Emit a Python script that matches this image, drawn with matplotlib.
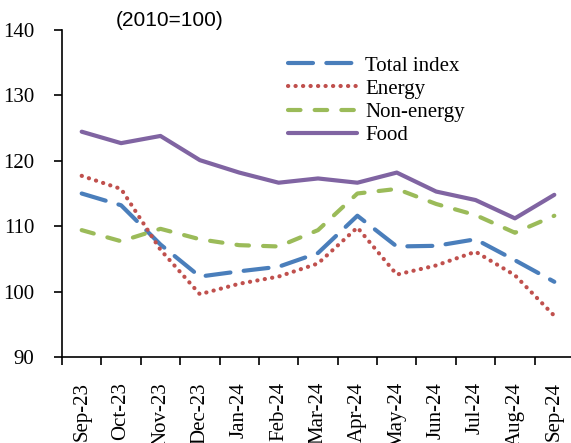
import matplotlib
matplotlib.use("Agg")
import matplotlib.pyplot as plt
import numpy as np

months = ["Sep-23", "Oct-23", "Nov-23", "Dec-23", "Jan-24", "Feb-24", "Mar-24",
          "Apr-24", "May-24", "Jun-24", "Jul-24", "Aug-24", "Sep-24"]
total_index = [115.0, 113.2, 107.2, 102.3, 103.1, 103.8, 105.9, 111.6, 106.9, 107.0, 108.0, 104.8, 101.5]
energy = [117.7, 115.7, 106.4, 99.6, 101.2, 102.3, 104.3, 109.8, 102.6, 104.0, 106.1, 102.5, 96.3]
non_energy = [109.4, 107.7, 109.6, 108.0, 107.1, 106.9, 109.4, 115.0, 115.7, 113.4, 111.7, 109.0, 111.6]
food = [124.45, 122.7, 123.8, 120.1, 118.2, 116.65, 117.3, 116.65, 118.2, 115.3, 114.0, 111.2, 114.8]
yticks = [90, 100, 110, 120, 130, 140]

plt.rcParams['font.family'] = ['Liberation Serif', 'DejaVu Serif']

W, H = 571, 443
fig = plt.figure(figsize=(W / 100, H / 100), dpi=100)
ax = fig.add_axes([62 / W, (H - 357) / H, 512 / W, 327 / H])

x = np.arange(len(months))
lw = 3.0
ax.plot(x, total_index, color="#4A7EBB", lw=lw, dashes=[6.0, 3.2], dash_capstyle='round',
        label="Total index")
ax.plot(x, energy, color="#C0504D", lw=lw, dashes=[0.05, 1.75], dash_capstyle='round',
        label="Energy")
ax.plot(x, non_energy, color="#9BBB59", lw=lw, dashes=[3.0, 3.4], dash_capstyle='round',
        label="Non-energy")
ax.plot(x, food, color="#8064A2", lw=lw, solid_capstyle='round', label="Food")

ax.set_xlim(-0.5, len(months) - 0.5)
ax.set_ylim(90, 140)
ax.set_yticks(yticks)
ax.set_yticklabels([str(v) for v in yticks], fontsize=15)
ax.set_xticks(x)
ax.set_xticklabels(months, rotation=90, fontsize=15)
ax.set_xticks(np.arange(len(months)) - 0.5, minor=True)
ax.tick_params(axis='x', which='major', length=0, pad=18)
ax.tick_params(axis='x', which='minor', length=6, width=1.2, direction='out')
ax.tick_params(axis='y', length=6, width=1.2, direction='out', pad=14)

for s in ['top', 'right']:
    ax.spines[s].set_visible(False)
for s in ['left', 'bottom']:
    ax.spines[s].set_linewidth(1.2)

leg = ax.legend(loc='upper left', bbox_to_anchor=((288 - 62) / 512, (357 - 56) / 327),
                frameon=False, fontsize=15, handlelength=3.3, handletextpad=0.4,
                labelspacing=0.17, borderaxespad=0, borderpad=0)

fig.text(116 / W, 1 - 20 / H, "(2010=100)", fontsize=15, family='Liberation Sans',
         ha='left', va='center')

fig.savefig("out.png", dpi=100)
